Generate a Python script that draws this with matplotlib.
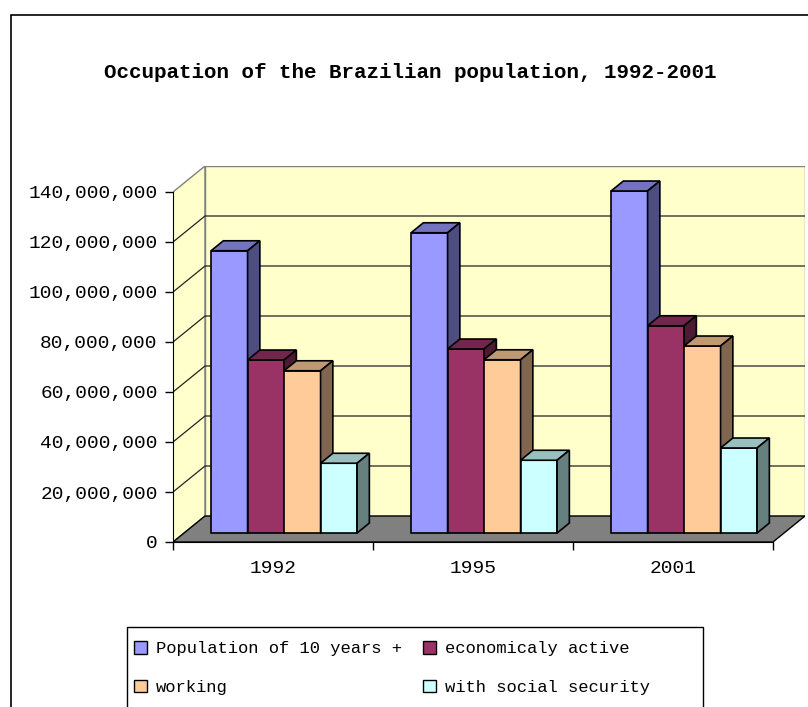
import numpy as np
import matplotlib
matplotlib.use("Agg")
import matplotlib.pyplot as plt
from matplotlib.patches import Polygon, Rectangle, Patch

# data
years = ["1992", "1995", "2001"]
series = ["Population of 10 years +", "economicaly active", "working", "with social security"]
pop10 = [112900000, 120100000, 136800000]
active = [69200000, 73600000, 82900000]
working = [64900000, 69300000, 74800000]
social = [27900000, 29100000, 34000000]
yticks = [0, 20000000, 40000000, 60000000, 80000000, 100000000, 120000000, 140000000]

front = ["#9999FF", "#993366", "#FFCC99", "#CCFFFF"]
top = ["#7373BF", "#73264D", "#BF9973", "#99BFBF"]
side = ["#4D4D80", "#4D1A33", "#806650", "#668080"]

# fake 3d geometry (in data units)
DX = 0.16
DY = 10.4e6
F0 = 0.346
F1 = 0.73
GAP = 0.135
BW = 0.1825
ymax = yticks[-1]
ncat = len(years)

fig = plt.figure(figsize=(8.08, 7.07), dpi=100)
ax = fig.add_axes([173/808, 165/707, 632/808, 376/707])
ax.set_xlim(0, ncat + DX)
ax.set_ylim(0, ymax + DY)
ax.patch.set_visible(False)

# walls and floor
ax.add_patch(Polygon([(0, 0), (DX, DY), (DX, ymax + DY), (0, ymax)],
                     fc="#FFFFCC", ec="#808080", lw=1, zorder=0.5))
ax.add_patch(Rectangle((DX, DY), ncat, ymax, fc="#FFFFCC", ec="#808080", lw=1, zorder=0.5))
for v in yticks[1:-1]:
    ax.plot([0, DX, ncat + DX], [v, v + DY, v + DY], color="#222222", lw=0.9, zorder=0.8)
ax.add_patch(Polygon([(0, 0), (ncat, 0), (ncat + DX, DY), (DX, DY)],
                     fc="#808080", ec="black", lw=1, zorder=1))

vals = [pop10, active, working, social]
d = (F1 - F0) * DX
dy = (F1 - F0) * DY
for i in range(ncat):
    for j in range(4):
        v = vals[j][i]
        x0 = i + GAP + j * BW + F0 * DX
        y0 = F0 * DY
        z = 3 + j * 0.1
        ax.bar(x0, v, width=BW, bottom=y0, align="edge", color=front[j],
               edgecolor="black", linewidth=1.2, zorder=z)
        ax.add_patch(Polygon([(x0, y0 + v), (x0 + BW, y0 + v), (x0 + BW + d, y0 + v + dy), (x0 + d, y0 + v + dy)],
                             fc=top[j], ec="black", lw=1.2, zorder=z))
        ax.add_patch(Polygon([(x0 + BW, y0), (x0 + BW + d, y0 + dy), (x0 + BW + d, y0 + v + dy), (x0 + BW, y0 + v)],
                             fc=side[j], ec="black", lw=1.2, zorder=z))

# axes
for s in ["top", "right"]:
    ax.spines[s].set_visible(False)
ax.spines["left"].set_bounds(0, ymax)
ax.spines["bottom"].set_bounds(0, ncat)
ax.spines["left"].set_zorder(2)
ax.spines["bottom"].set_zorder(2)
ax.set_yticks(yticks)
ax.set_yticklabels(["{:,}".format(t) for t in yticks], fontfamily="Liberation Mono", fontsize=14)
ax.tick_params(axis="y", length=6, width=1, pad=5)
ax.set_xticks(range(ncat + 1))
ax.set_xticklabels([])
ax.set_xticks([i + 0.5 for i in range(ncat)], minor=True)
ax.set_xticklabels(years, minor=True, fontfamily="Liberation Mono", fontsize=14)
ax.tick_params(axis="x", which="major", length=6, width=1)
ax.tick_params(axis="x", which="minor", length=0, pad=13)

fig.text(410/808, 1 - 73/707, "Occupation of the Brazilian population, 1992-2001",
         ha="center", va="center", fontfamily="Liberation Mono", fontweight="bold", fontsize=15)

# legend
handles = [Patch(fc=front[j], ec="black", lw=1) for j in range(4)]
order = [0, 2, 1, 3]
fig.legend([handles[k] for k in order], [series[k] for k in order],
           loc="upper left", bbox_to_anchor=(134/808, 1 - 641/707), ncol=2, frameon=False,
           borderpad=0, borderaxespad=0, handlelength=0.76, handleheight=0.76,
           handletextpad=0.53, columnspacing=1.23, labelspacing=1.37,
           prop=dict(family="Liberation Mono", size=12.3))
fig.add_artist(Rectangle((127/808, -0.05), (703 - 127)/808, 1 - 627/707 + 0.05,
                         transform=fig.transFigure, fill=False, ec="black", lw=1))
fig.add_artist(Rectangle((11/808, -0.05), 1.0, 1 - 15/707 + 0.05,
                         transform=fig.transFigure, fill=False, ec="black", lw=1.2))

fig.savefig("out.png", dpi=100)
